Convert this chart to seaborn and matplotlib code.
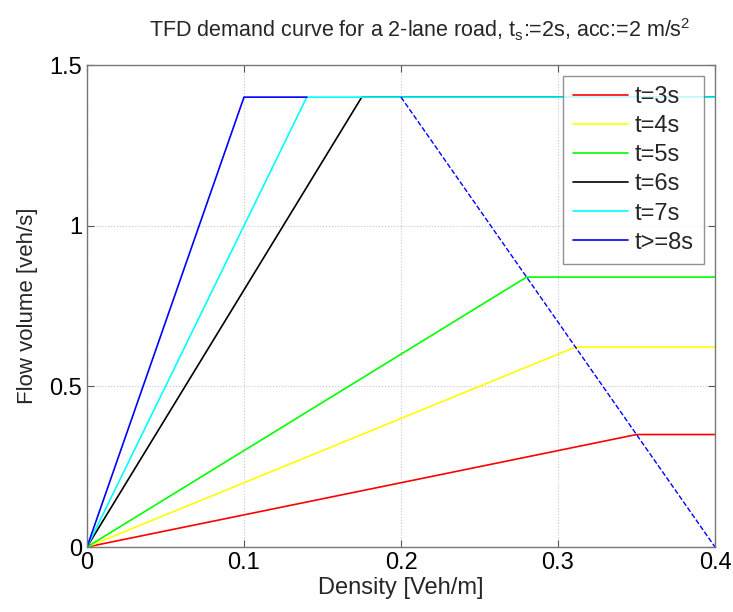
import numpy as np
import pandas as pd
import matplotlib
matplotlib.use('Agg')
import matplotlib.pyplot as plt
import seaborn as sns

# curve data: density [veh/m] vs flow [veh/s]
labels = ['t=3s', 't=4s', 't=5s', 't=6s', 't=7s', 't>=8s']
colors = ['#ff0000', '#ffff00', '#00ff00', '#000000', '#00ffff', '#0000ff']
dens = [
    [0, 0.35, 0.4],
    [0, 0.3111, 0.4],
    [0, 0.28, 0.4],
    [0, 0.175, 0.4],
    [0, 0.14, 0.4],
    [0, 0.1, 0.14],
]
flow = [
    [0, 0.35, 0.35],
    [0, 0.6222, 0.6222],
    [0, 0.84, 0.84],
    [0, 1.4, 1.4],
    [0, 1.4, 1.4],
    [0, 1.4, 1.4],
]
# dashed limit line
lim_dens = [0.2, 0.4]
lim_flow = [1.4, 0]

sns.set_style('white')
plt.rcParams['font.family'] = ['Liberation Sans', 'DejaVu Sans']
plt.rcParams['mathtext.default'] = 'regular'

rows = []
for lab, xs, ys in zip(labels, dens, flow):
    for x, y in zip(xs, ys):
        rows.append({'curve': lab, 'density': x, 'flow': y})
df = pd.DataFrame(rows)

fig = plt.figure(figsize=(7.33, 6.12), dpi=100)
ax = fig.add_axes([87/733, 1-547/612, 628/733, 482/612])

sns.lineplot(data=df, x='density', y='flow', hue='curve', hue_order=labels,
             palette=colors, sort=False, estimator=None,
             linewidth=1.2, ax=ax)
sns.lineplot(x=lim_dens, y=lim_flow, color='#0000ff', linestyle='--',
             linewidth=1.0, ax=ax, legend=False)

ax.set_xlim(0, 0.4)
ax.set_ylim(0, 1.5)
ax.set_xticks([0, 0.1, 0.2, 0.3, 0.4])
ax.set_xticklabels(['0', '0.1', '0.2', '0.3', '0.4'])
ax.set_yticks([0, 0.5, 1, 1.5])
ax.set_yticklabels(['0', '0.5', '1', '1.5'])
ax.grid(True, color='#c8c8c8', linestyle=':', linewidth=0.8)
ax.tick_params(direction='in', length=5, width=0.8, colors='#555555',
               labelsize=17, labelcolor='black', top=True, right=True,
               bottom=True, left=True)
for s in ax.spines.values():
    s.set_color('#777777')
    s.set_linewidth(1.0)

ax.set_xlabel('Density [Veh/m]', fontsize=17, labelpad=2)
ax.set_ylabel('Flow volume [veh/s]', fontsize=16, labelpad=8)
ax.set_title(r'TFD demand curve for a 2-lane road, t$_s$:=2s, acc:=2 m/s$^2$',
             fontsize=15.5, pad=20, x=0.53)

leg = ax.legend(loc='upper right', fontsize=17, frameon=True, fancybox=False,
                edgecolor='#777777', handlelength=2.3, handletextpad=0.3,
                labelspacing=0.3, borderaxespad=0.45, borderpad=0.45)
leg.get_frame().set_linewidth(1.0)

fig.savefig('out.png', dpi=100)
